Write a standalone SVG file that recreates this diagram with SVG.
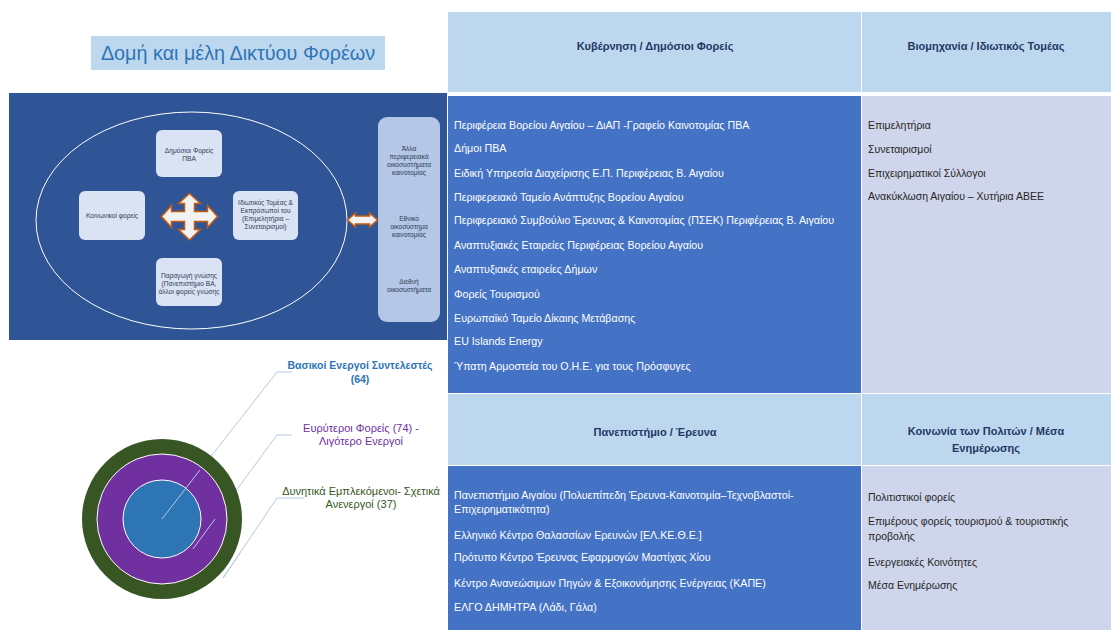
<svg xmlns="http://www.w3.org/2000/svg" width="1111" height="630" viewBox="0 0 1111 630">
<style>
.t{font-family:"Liberation Sans",Arial,sans-serif}
.box{fill:#dae3f3;stroke:none}
.bx{font-family:"Liberation Sans",Arial,sans-serif;font-size:6.6px;fill:#2f3b55;text-anchor:middle}
.hd{font-family:"Liberation Sans",Arial,sans-serif;font-size:11px;font-weight:bold;fill:#1f3864;text-anchor:middle}
.wl{font-family:"Liberation Sans",Arial,sans-serif;font-size:10.7px;fill:#ffffff}
.dl{font-family:"Liberation Sans",Arial,sans-serif;font-size:10.5px;fill:#262626}
.arr{fill:#f2f2f2;stroke:#c55a11;stroke-width:1.5;stroke-linejoin:miter}
.lead{fill:none;stroke:#b4c7e7;stroke-width:1}
</style>
<rect width="1111" height="630" fill="#ffffff"/>

<g id="title">
<rect x="91" y="36" width="294" height="34" fill="#bdd7ee"/>
<text class="t" x="238" y="60" font-size="19.8" fill="#2e75b6" text-anchor="middle">Δομή και μέλη Δικτύου Φορέων</text>
</g>

<g id="panel">
<rect x="9" y="93" width="438" height="247" fill="#2f5597"/>
<ellipse cx="191.5" cy="220.5" rx="155.5" ry="108.5" fill="none" stroke="#ffffff" stroke-width="1"/>
</g>

<g id="node-public">
<rect class="box" x="156" y="130" width="66" height="47" rx="6"/>
<text class="bx" x="189" y="153">Δημόσιοι Φορείς</text>
<text class="bx" x="189" y="161">ΠΒΑ</text>
</g>
<g id="node-social">
<rect class="box" x="79" y="191" width="66" height="49" rx="6"/>
<text class="bx" x="112" y="218">Κοινωνικοί φορείς</text>
</g>
<g id="node-private">
<rect class="box" x="233" y="191" width="65" height="49" rx="6"/>
<text class="bx" x="265.5" y="205">Ιδιωτικός Τομέας &amp;</text>
<text class="bx" x="265.5" y="213">Εκπρόσωποί του</text>
<text class="bx" x="265.5" y="221">(Επιμελητήρια –</text>
<text class="bx" x="265.5" y="229">Συνεταιρισμοί)</text>
</g>
<g id="node-knowledge">
<rect class="box" x="156" y="258" width="66" height="48" rx="6"/>
<text class="bx" x="189" y="278">Παραγωγή γνώσης</text>
<text class="bx" x="189" y="286">(Πανεπιστήμιο ΒΑ,</text>
<text class="bx" x="189" y="294">άλλοι φορείς γνώσης</text>
</g>
<g id="node-ecosystems">
<rect x="378" y="117" width="62" height="205" rx="9" fill="#b4c7e7"/>
<text class="bx" x="409" y="151">Άλλα</text>
<text class="bx" x="409" y="159">περιφερειακά</text>
<text class="bx" x="409" y="167">οικοσυστήματα</text>
<text class="bx" x="409" y="175">καινοτομίας</text>
<text class="bx" x="409" y="221">Εθνικό</text>
<text class="bx" x="409" y="229">οικοσύστημα</text>
<text class="bx" x="409" y="237">καινοτομίας</text>
<text class="bx" x="409" y="284">Διεθνή</text>
<text class="bx" x="409" y="292">οικοσυστήματα</text>
</g>

<g id="connectors">
<path class="arr" d="M189.5,193.5 L200.5,203.5 L194.5,203.5 L194.5,211.5 L207.5,211.5 L207.5,205.5 L217.5,216.5 L207.5,227.5 L207.5,221.5 L194.5,221.5 L194.5,229.5 L200.5,229.5 L189.5,240 L178.5,229.5 L184.5,229.5 L184.5,221.5 L171.5,221.5 L171.5,227.5 L161.5,216.5 L171.5,205.5 L171.5,211.5 L184.5,211.5 L184.5,203.5 L178.5,203.5 Z"/>
<path class="arr" d="M347.5,220 L355.5,213 L355.5,216 L369.5,216 L369.5,213 L377.5,220 L369.5,227 L369.5,224 L355.5,224 L355.5,227 Z"/>
<polyline class="lead" points="162,519 277,372 292,372"/>
<polyline class="lead" points="193,549 277,435 292,435"/>
<polyline class="lead" points="223,578 277,498 304,498"/>
</g>

<g id="rings">
<circle cx="162" cy="519" r="80" fill="#375623"/>
<circle cx="162" cy="519" r="65" fill="#7030a0" stroke="#ffffff" stroke-width="1"/>
<circle cx="162" cy="519" r="39" fill="#2e75b6" stroke="#ffffff" stroke-width="1"/>
<polyline class="lead" points="162,519 200,470"/>
<polyline class="lead" points="193,549 215,519"/>
<polyline class="lead" points="223,578 240,553"/>
</g>

<g id="ring-labels">
<text class="t" x="360" y="369" font-size="10.5" font-weight="bold" fill="#2e75b6" text-anchor="middle">Βασικοί Ενεργοί Συντελεστές</text>
<text class="t" x="360" y="383" font-size="10.5" font-weight="bold" fill="#2e75b6" text-anchor="middle">(64)</text>
<text class="t" x="361" y="432" font-size="11" fill="#7030a0" text-anchor="middle">Ευρύτεροι Φορείς (74) -</text>
<text class="t" x="361" y="445" font-size="11" fill="#7030a0" text-anchor="middle">Λιγότερο Ενεργοί</text>
<text class="t" x="361" y="495" font-size="11" fill="#375623" text-anchor="middle">Δυνητικά Εμπλεκόμενοι- Σχετικά</text>
<text class="t" x="361" y="508" font-size="11" fill="#375623" text-anchor="middle">Ανενεργοί (37)</text>
</g>

<g id="cell-gov-header">
<rect x="448" y="12" width="413" height="80" fill="#bdd7ee"/>
<text class="hd" x="655" y="50">Κυβέρνηση / Δημόσιοι Φορείς</text>
</g>
<g id="cell-ind-header">
<rect x="862" y="12" width="249" height="80" fill="#bdd7ee"/>
<text class="hd" x="986" y="50">Βιομηχανία / Ιδιωτικός Τομέας</text>
</g>
<g id="cell-gov-body">
<rect x="448" y="96" width="413" height="297" fill="#4472c4"/>
<text class="wl" x="454" y="129">Περιφέρεια Βορείου Αιγαίου – ΔιΑΠ -Γραφείο Καινοτομίας ΠΒΑ</text>
<text class="wl" x="454" y="152">Δήμοι ΠΒΑ</text>
<text class="wl" x="454" y="177">Ειδική Υπηρεσία Διαχείρισης Ε.Π. Περιφέρειας Β. Αιγαίου</text>
<text class="wl" x="454" y="201">Περιφερειακό Ταμείο Ανάπτυξης Βορείου Αιγαίου</text>
<text class="wl" x="454" y="224">Περιφερειακό Συμβούλιο Έρευνας &amp; Καινοτομίας (ΠΣΕΚ) Περιφέρειας Β. Αιγαίου</text>
<text class="wl" x="454" y="249">Αναπτυξιακές Εταιρείες Περιφέρειας Βορείου Αιγαίου</text>
<text class="wl" x="454" y="273">Αναπτυξιακές εταιρείες Δήμων</text>
<text class="wl" x="454" y="298">Φορείς Τουρισμού</text>
<text class="wl" x="454" y="322">Ευρωπαϊκό Ταμείο Δίκαιης Μετάβασης</text>
<text class="wl" x="454" y="345">EU Islands Energy</text>
<text class="wl" x="454" y="370">Ύπατη Αρμοστεία του Ο.Η.Ε. για τους Πρόσφυγες</text>
</g>
<g id="cell-ind-body">
<rect x="862" y="96" width="249" height="297" fill="#cfd5ea"/>
<text class="dl" x="868" y="129">Επιμελητήρια</text>
<text class="dl" x="868" y="153">Συνεταιρισμοί</text>
<text class="dl" x="868" y="177">Επιχειρηματικοί Σύλλογοι</text>
<text class="dl" x="868" y="200">Ανακύκλωση Αιγαίου – Χυτήρια ΑΒΕΕ</text>
</g>
<g id="cell-uni-header">
<rect x="448" y="394" width="413" height="71" fill="#bdd7ee"/>
<text class="hd" x="655" y="436">Πανεπιστήμιο / Έρευνα</text>
</g>
<g id="cell-civ-header">
<rect x="862" y="394" width="249" height="71" fill="#bdd7ee"/>
<text class="hd" x="986" y="435">Κοινωνία των Πολιτών / Μέσα</text>
<text class="hd" x="986" y="452">Ενημέρωσης</text>
</g>
<g id="cell-uni-body">
<rect x="448" y="466" width="413" height="164" fill="#4472c4"/>
<text class="wl" x="454" y="498.5">Πανεπιστήμιο Αιγαίου (Πολυεπίπεδη Έρευνα-Καινοτομία–Τεχνοβλαστοί-</text>
<text class="wl" x="454" y="512.5">Επιχειρηματικότητα)</text>
<text class="wl" x="454" y="538.5">Ελληνικό Κέντρο Θαλασσίων Ερευνών [ΕΛ.ΚΕ.Θ.Ε.]</text>
<text class="wl" x="454" y="560.5">Πρότυπο Κέντρο Έρευνας Εφαρμογών Μαστίχας Χίου</text>
<text class="wl" x="454" y="586.5">Κέντρο Ανανεώσιμων Πηγών &amp; Εξοικονόμησης Ενέργειας (ΚΑΠΕ)</text>
<text class="wl" x="454" y="610.5">ΕΛΓΟ ΔΗΜΗΤΡΑ (Λάδι, Γάλα)</text>
</g>
<g id="cell-civ-body">
<rect x="862" y="466" width="249" height="164" fill="#cfd5ea"/>
<text class="dl" x="868" y="501">Πολιτιστικοί φορείς</text>
<text class="dl" x="868" y="524.5">Επιμέρους φορείς τουρισμού &amp; τουριστικής</text>
<text class="dl" x="868" y="539.5">προβολής</text>
<text class="dl" x="868" y="565.5">Ενεργειακές Κοινότητες</text>
<text class="dl" x="868" y="588.5">Μέσα Ενημέρωσης</text>
</g>
</svg>
